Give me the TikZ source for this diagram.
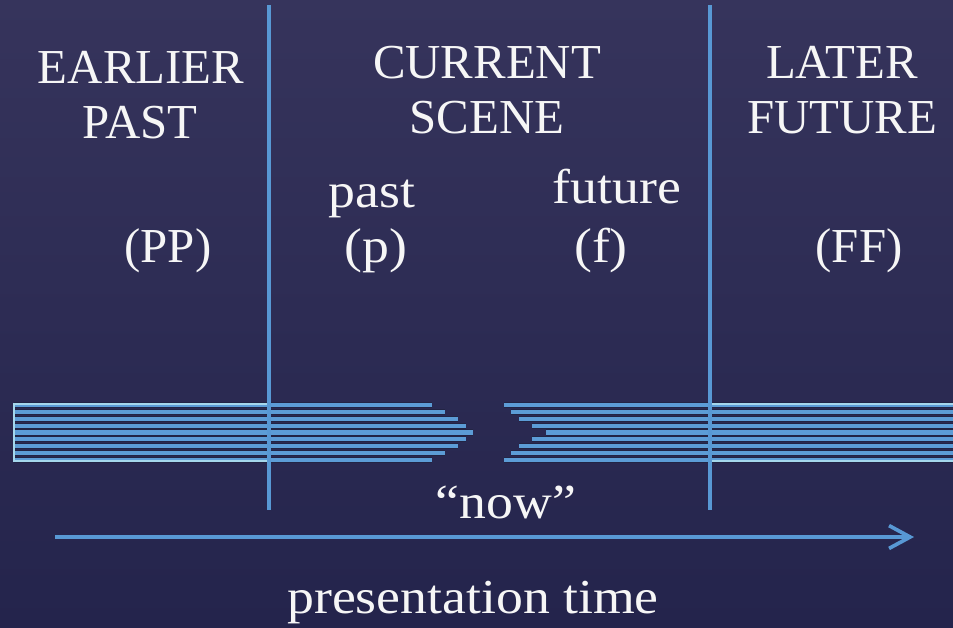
\documentclass[tikz,border=0pt]{standalone}
\usepackage{fontspec}
\setmainfont{Liberation Serif}
\newfontfamily\widefont[FakeStretch=1.1]{Liberation Serif}
\usetikzlibrary{arrows.meta}
\definecolor{bgtop}{RGB}{54,52,92}
\definecolor{bgbot}{RGB}{36,36,76}
\definecolor{rule}{RGB}{88,152,212}
\definecolor{bar}{RGB}{92,156,214}
\definecolor{barrim}{RGB}{34,36,68}
\definecolor{rim}{RGB}{165,215,236}
\definecolor{ink}{RGB}{246,246,246}
\begin{document}
\begin{tikzpicture}[x=0.02cm,y=-0.02cm,
  label/.style={text=ink,font=\fontsize{27.8}{32}\selectfont,inner sep=0pt,anchor=base},
  wide/.style={label,font=\fontsize{27.8}{32}\widefont},
  divider/.style={draw=rule,line width=2.2pt},
  barline/.style={draw=barrim,line width=0.55pt,double=bar,double distance=2.4pt},
  rimbox/.style={draw=rim,line width=1.1pt},
  timeline/.style={draw=rule,line width=2.1pt,
    -{Straight Barb[length=12pt,width=13pt,line width=2.1pt]}}]

% backdrop
\shade[top color=bgtop,bottom color=bgbot] (0,0) rectangle (953,627);
\useasboundingbox (0,0) rectangle (953,627);

% strands running out of the past, up to "now"
\foreach \i/\e in {0/432,1/445,2/458,3/466,4/473,5/466,6/458,7/445,8/432}
  \draw[barline] (14,405+6.875*\i) -- (\e,405+6.875*\i);
% strands running from "now" into the future
\foreach \i/\s in {0/504,1/511,2/519,3/532,4/546,5/532,6/519,7/511,8/504}
  \draw[barline] (\s,405+6.875*\i) -- (954,405+6.875*\i);
\draw[rimbox] (14,404) rectangle (270,461);
\draw[rimbox] (709,404) rectangle (953.5,461);

% scene boundaries
\coordinate (d1top) at (269,5);
\coordinate (d1bot) at (269,510);
\coordinate (d2top) at (710,5);
\coordinate (d2bot) at (710,510);
\draw[divider] (d1top) -- (d1bot);
\draw[divider] (d2top) -- (d2bot);

% time axis
\coordinate (tstart) at (55,537);
\coordinate (tend) at (914,537);
\draw[timeline] (tstart) -- (tend);

% headings
\node[label] (earlier) at (141,83) {EARLIER};
\node[label] (pastcap) at (140,138) {PAST};
\node[label] (current) at (487,78) {CURRENT};
\node[label] (scene) at (487,133) {SCENE};
\node[label] (later) at (842,78) {LATER};
\node[label] (futurecap) at (842,133) {FUTURE};

\node[wide] (pastsm) at (372,207) {past};
\node[wide] (futuresm) at (617,203) {future};
\node[label] (pp) at (168,262) {(PP)};
\node[wide] (p) at (376,262) {(p)};
\node[wide] (f) at (601,262) {(f)};
\node[label] (ff) at (859,262) {(FF)};

\node[wide] (now) at (506,518) {“now”};
\node[wide] (ptime) at (473,613) {presentation time};
\end{tikzpicture}
\end{document}
